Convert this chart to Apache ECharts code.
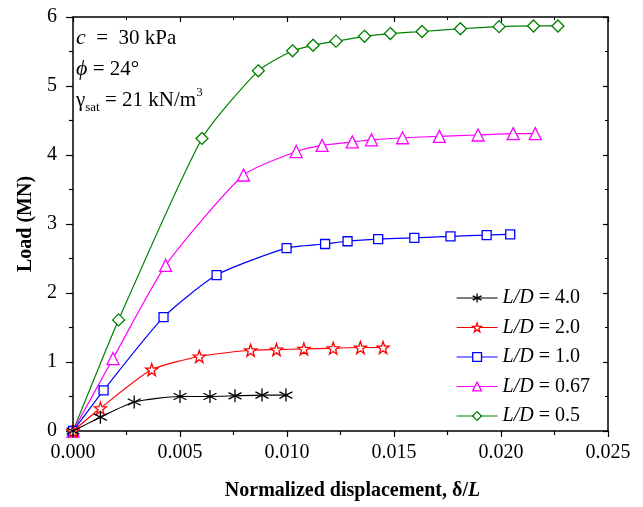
<!DOCTYPE html>
<html>
<head>
<meta charset="utf-8">
<script src="https://cdn.jsdelivr.net/npm/echarts@6/dist/echarts.min.js"></script>
<style>
  html, body { margin: 0; padding: 0; background: #fff; }
</style>
</head>
<body>
<!-- chart container -->
<div id="container" style="width: 643px; height: 507px"></div>
<script>
// data: normalized displacement (δ/L) and load (MN)
const names = ['L/D = 4.0', 'L/D = 2.0', 'L/D = 1.0', 'L/D = 0.67', 'L/D = 0.5']

const x40 = [0, 0.00128, 0.00286, 0.0050, 0.0064, 0.00757, 0.00883, 0.00995]
const y40 = [0, 0.20, 0.42, 0.50, 0.50, 0.51, 0.52, 0.52]

const x20 = [0, 0.00128, 0.00368, 0.0059, 0.0083, 0.00951, 0.01079, 0.01216, 0.01343, 0.01449]
const y20 = [0, 0.33, 0.89, 1.08, 1.17, 1.18, 1.19, 1.20, 1.21, 1.21]

const x10 = [0, 0.00143, 0.00423, 0.00671, 0.00998, 0.01178, 0.01283, 0.01426, 0.01595, 0.01764, 0.01933, 0.02043]
const y10 = [0, 0.59, 1.65, 2.26, 2.65, 2.71, 2.75, 2.78, 2.80, 2.82, 2.84, 2.85]

const x067 = [0, 0.00187, 0.00433, 0.00797, 0.01043, 0.01164, 0.01305, 0.01395, 0.0154, 0.01712, 0.01893, 0.02057, 0.0216]
const y067 = [0, 1.05, 2.40, 3.71, 4.05, 4.14, 4.19, 4.22, 4.25, 4.27, 4.29, 4.31, 4.31]

const x05 = [0, 0.00213, 0.00603, 0.00866, 0.01026, 0.01122, 0.01229, 0.01362, 0.01483, 0.01631, 0.0181, 0.01991, 0.02152, 0.02266]
const y05 = [0, 1.61, 4.24, 5.22, 5.51, 5.59, 5.65, 5.72, 5.76, 5.79, 5.83, 5.86, 5.87, 5.87]

const xs = [x40, x20, x10, x067, x05]
const ys = [y40, y20, y10, y067, y05]

const colors = ['#000000', '#ff0000', '#0000ff', '#ff00ff', '#008000']
const symbols = [
  'path://M0,-10L0,10M-8.66,-5L8.66,5M-8.66,5L8.66,-5', // asterisk
  'path://M0,-10L2.35,-3.24L9.51,-3.09L3.8,1.24L5.88,8.09L0,4L-5.88,8.09L-3.8,1.24L-9.51,-3.09L-2.35,-3.24Z', // star
  'rect',
  'triangle',
  'diamond'
]
const sizes = [13, 12, 9, 12, 12]

const font = 'Liberation Serif'

var myChart = echarts.init(document.getElementById('container'))

// marker style: hollow markers, the asterisk is only strokes
const markerStyle = (k) => ({
  color: k === 0 ? colors[k] : '#ffffff',
  borderColor: colors[k],
  borderWidth: 1.3
})

// build series from the arrays
const series = names.map((name, k) => ({
  name: name,
  type: 'line',
  data: xs[k].map((x, i) => [x, ys[k][i]]),
  smooth: 0.2,
  symbol: symbols[k],
  symbolSize: sizes[k],
  showAllSymbol: true,
  lineStyle: { color: colors[k], width: 1.2 },
  itemStyle: markerStyle(k),
  emphasis: { disabled: true },
  z: 10 - k
}))

const option = {
  animation: false,
  backgroundColor: '#fff',
  grid: { left: 73, right: 35, top: 17, bottom: 76 },
  xAxis: [
    {
      type: 'value',
      min: 0,
      max: 0.025,
      interval: 0.005,
      name: 'Normalized displacement, δ/{i|L}',
      nameLocation: 'middle',
      nameGap: 50,
      nameTextStyle: {
        fontFamily: font,
        fontSize: 20,
        fontWeight: 'bold',
        color: '#000',
        padding: [0, 0, 0, 24],
        rich: { i: { fontFamily: font, fontSize: 20, fontWeight: 'bold', fontStyle: 'italic', color: '#000' } }
      },
      axisLine: { onZero: false, lineStyle: { color: '#000', width: 1.5 } },
      axisTick: { inside: false, length: 6, lineStyle: { color: '#000', width: 1.2 } },
      minorTick: { show: true, splitNumber: 2, length: 4, lineStyle: { color: '#000', width: 1.2 } },
      axisLabel: {
        margin: 12,
        fontFamily: font,
        fontSize: 20,
        color: '#000',
        formatter: (v) => v.toFixed(3)
      },
      splitLine: { show: false }
    },
    {
      type: 'value',
      position: 'top',
      min: 0,
      max: 0.025,
      interval: 0.005,
      axisLine: { onZero: false, lineStyle: { color: '#000', width: 1.5 } },
      axisTick: { inside: true, length: 5, lineStyle: { color: '#000', width: 1.2 } },
      minorTick: { show: true, splitNumber: 2, length: 3, lineStyle: { color: '#000' } },
      axisLabel: { show: false },
      splitLine: { show: false }
    }
  ],
  yAxis: [
    {
      type: 'value',
      min: 0,
      max: 6,
      interval: 1,
      name: 'Load (MN)',
      nameLocation: 'middle',
      nameGap: 36,
      nameTextStyle: { fontFamily: font, fontSize: 20, fontWeight: 'bold', color: '#000' },
      axisLine: { onZero: false, lineStyle: { color: '#000', width: 1.5 } },
      axisTick: { inside: false, length: 7, lineStyle: { color: '#000', width: 1.2 } },
      minorTick: { show: true, splitNumber: 2, length: 4, lineStyle: { color: '#000', width: 1.2 } },
      axisLabel: { margin: 16, fontFamily: font, fontSize: 20, color: '#000' },
      splitLine: { show: false }
    },
    {
      type: 'value',
      position: 'right',
      min: 0,
      max: 6,
      interval: 1,
      axisLine: { onZero: false, lineStyle: { color: '#000', width: 1.5 } },
      axisTick: { inside: true, length: 5, lineStyle: { color: '#000', width: 1.2 } },
      minorTick: { show: true, splitNumber: 2, length: 3, lineStyle: { color: '#000' } },
      axisLabel: { show: false },
      splitLine: { show: false }
    }
  ],
  legend: {
    orient: 'vertical',
    left: 451,
    top: 283,
    itemWidth: 41,
    itemHeight: 11,
    itemGap: 9.5,
    data: names.map((name, k) => ({
      name: name,
      itemStyle: markerStyle(k),
      lineStyle: { color: colors[k], width: 1.2 }
    })),
    formatter: (name) => '{i|L/D} = ' + name.split('= ')[1],
    textStyle: {
      fontFamily: font,
      fontSize: 20,
      color: '#000',
      rich: {
        i: { fontFamily: font, fontSize: 20, fontStyle: 'italic', color: '#000' }
      }
    }
  },
  // soil parameters in the top-left corner
  graphic: [
    {
      type: 'text',
      left: 76,
      top: 27,
      style: {
        text: '{i|c}  =  30 kPa',
        font: '21px "Liberation Serif"',
        fill: '#000',
        rich: { i: { fontFamily: font, fontSize: 22, fontStyle: 'italic' } }
      }
    },
    {
      type: 'text',
      left: 76,
      top: 58,
      style: {
        text: '{i|ϕ} = 24°',
        font: '21px "Liberation Serif"',
        fill: '#000',
        rich: { i: { fontFamily: font, fontSize: 22, fontStyle: 'italic' } }
      }
    },
    {
      type: 'text',
      left: 76,
      top: 86,
      style: {
        text: 'γ{sub|sat} = 21 kN/m{sup|3}',
        font: '21px "Liberation Serif"',
        fill: '#000',
        lineHeight: 28,
        rich: {
          sub: { fontFamily: font, fontSize: 13, lineHeight: 12, verticalAlign: 'bottom' },
          sup: { fontFamily: font, fontSize: 13, lineHeight: 12, verticalAlign: 'top' }
        }
      }
    }
  ],
  series: series
}

myChart.setOption(option)
</script>
</body>
</html>
